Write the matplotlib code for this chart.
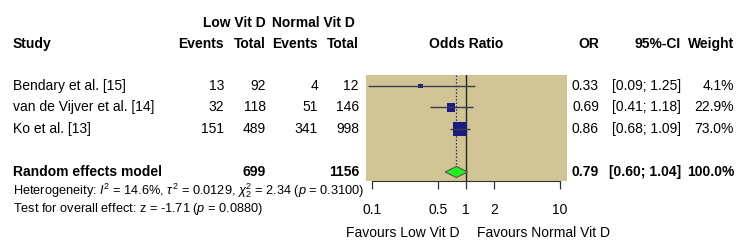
import matplotlib.pyplot as plt
import matplotlib.transforms as mtransforms
import numpy as np

plt.rcParams["font.family"] = ["Liberation Sans", "DejaVu Sans"]
plt.rcParams["mathtext.fontset"] = "custom"
plt.rcParams["mathtext.rm"] = "Liberation Sans"
plt.rcParams["mathtext.it"] = "Liberation Sans:italic"

# study data
studies = ["Bendary et al. [15]", "van de Vijver et al. [14]", "Ko et al. [13]"]
events_low = [13, 32, 151]
total_low = [92, 118, 489]
events_normal = [4, 51, 341]
total_normal = [12, 146, 998]
odds_ratio = [0.33, 0.69, 0.86]
ci_low = [0.09, 0.41, 0.68]
ci_high = [1.25, 1.18, 1.09]
weights = [4.1, 22.9, 73.0]

# pooled random effects estimate
pooled_or = 0.79
pooled_low = 0.60
pooled_high = 1.04
pooled_total_low = 699
pooled_total_normal = 1156

tick_values = [0.1, 0.5, 1, 2, 10]
tick_labels = ["0.1", "0.5", "1", "2", "10"]

W, H = 750, 250
fig = plt.figure(figsize=(7.5, 2.5), dpi=100)

# forest panel (pixel box 366..567 x 75..181)
ax = fig.add_axes([366 / W, 1 - 181 / H, 201 / W, 106 / H])
ax.set_facecolor("#d2c595")
ax.set_xscale("log")
ax.set_xlim(0.0863, 11.87)
ax.set_ylim(4.42, -0.51)

rows = np.arange(len(studies))
pooled_row = 4

# squares sized by weight (side in pixels -> points)
side_pt = (1.6 + 1.45 * np.sqrt(weights)) * 0.72
ax.scatter(odds_ratio, rows, s=side_pt ** 2, marker="s", color="#1c1c80",
           zorder=3, linewidths=0)
ax.hlines(rows, ci_low, ci_high, color="#3a3a55", lw=1, zorder=4)

# reference line and pooled line
ax.axvline(1, color="#222222", lw=1, zorder=2)
ax.vlines(pooled_or, -0.51, pooled_row - 0.26, color="#2a2a70", lw=0.9,
          linestyles=(0, (1.2, 1.5)), zorder=2)

dh = 0.26
ax.fill([pooled_low, pooled_or, pooled_high, pooled_or],
        [pooled_row, pooled_row - dh, pooled_row, pooled_row + dh],
        facecolor="#22ee22", edgecolor="#555555", lw=0.8, zorder=5)

for side in ["top", "right", "left"]:
    ax.spines[side].set_visible(False)
ax.spines["bottom"].set_bounds(0.1, 10)
ax.spines["bottom"].set_color("#333333")
ax.set_yticks([])
ax.set_xticks(tick_values)
ax.set_xticklabels(tick_labels, fontsize=10)
ax.xaxis.set_minor_locator(plt.NullLocator())
ax.tick_params(axis="x", direction="out", length=5.5, width=0.9,
               color="#333333", pad=10.5)

# text columns: x in figure pixels, y in row units
tr = mtransforms.blended_transform_factory(fig.transFigure, ax.transData)


def put(x, y, s, ha="right", bold=False, **kw):
    kw.setdefault("fontsize", 10)
    fig.text(x / W, y, s, ha=ha, va="center", transform=tr,
             fontweight="bold" if bold else "normal", **kw)


x_study, x_ev1, x_tot1, x_ev2, x_tot2 = 13, 224, 266, 318, 359
x_or, x_ci, x_w = 599, 681, 734

put(x_tot1, -2.93, "Low Vit D", bold=True)
put(313.5, -2.93, "Normal Vit D", ha="center", bold=True)
put(x_study, -1.95, "Study", ha="left", bold=True)
put(x_ev1, -1.95, "Events", bold=True)
put(x_tot1, -1.95, "Total", bold=True)
put(x_ev2, -1.95, "Events", bold=True)
put(x_tot2, -1.95, "Total", bold=True)
put(466, -1.95, "Odds Ratio", ha="center", bold=True)
put(x_or, -1.95, "OR", bold=True)
put(x_ci, -1.95, "95%-CI", bold=True)
put(x_w, -1.95, "Weight", bold=True)

for i, name in enumerate(studies):
    put(x_study, i, name, ha="left")
    put(x_ev1, i, str(events_low[i]))
    put(x_tot1, i, str(total_low[i]))
    put(x_ev2, i, str(events_normal[i]))
    put(x_tot2, i, str(total_normal[i]))
    put(x_or, i, f"{odds_ratio[i]:.2f}")
    put(x_ci, i, f"[{ci_low[i]:.2f}; {ci_high[i]:.2f}]")
    put(x_w, i, f"{weights[i]:.1f}%")

put(x_study, pooled_row, "Random effects model", ha="left", bold=True)
put(x_tot1, pooled_row, str(pooled_total_low), bold=True)
put(x_tot2, pooled_row, str(pooled_total_normal), bold=True)
put(x_or, pooled_row, f"{pooled_or:.2f}", bold=True)
put(x_ci, pooled_row, f"[{pooled_low:.2f}; {pooled_high:.2f}]", bold=True)
put(x_w, pooled_row, "100.0%", bold=True)

put(x_study, 4.88,
    r"Heterogeneity: $I^2$ = 14.6%, $\tau^2$ = 0.0129, $\chi^2_2$ = 2.34 ($p$ = 0.3100)",
    ha="left", fontsize=9.2)
put(x_study, 5.72, r"Test for overall effect: z = -1.71 ($p$ = 0.0880)",
    ha="left", fontsize=9.2)

fig.text(460 / W, 1 - 233 / H, "Favours Low Vit D", ha="right", va="center",
         fontsize=10)
fig.text(477 / W, 1 - 233 / H, "Favours Normal Vit D", ha="left", va="center",
         fontsize=10)

fig.savefig("out.png", dpi=100)
